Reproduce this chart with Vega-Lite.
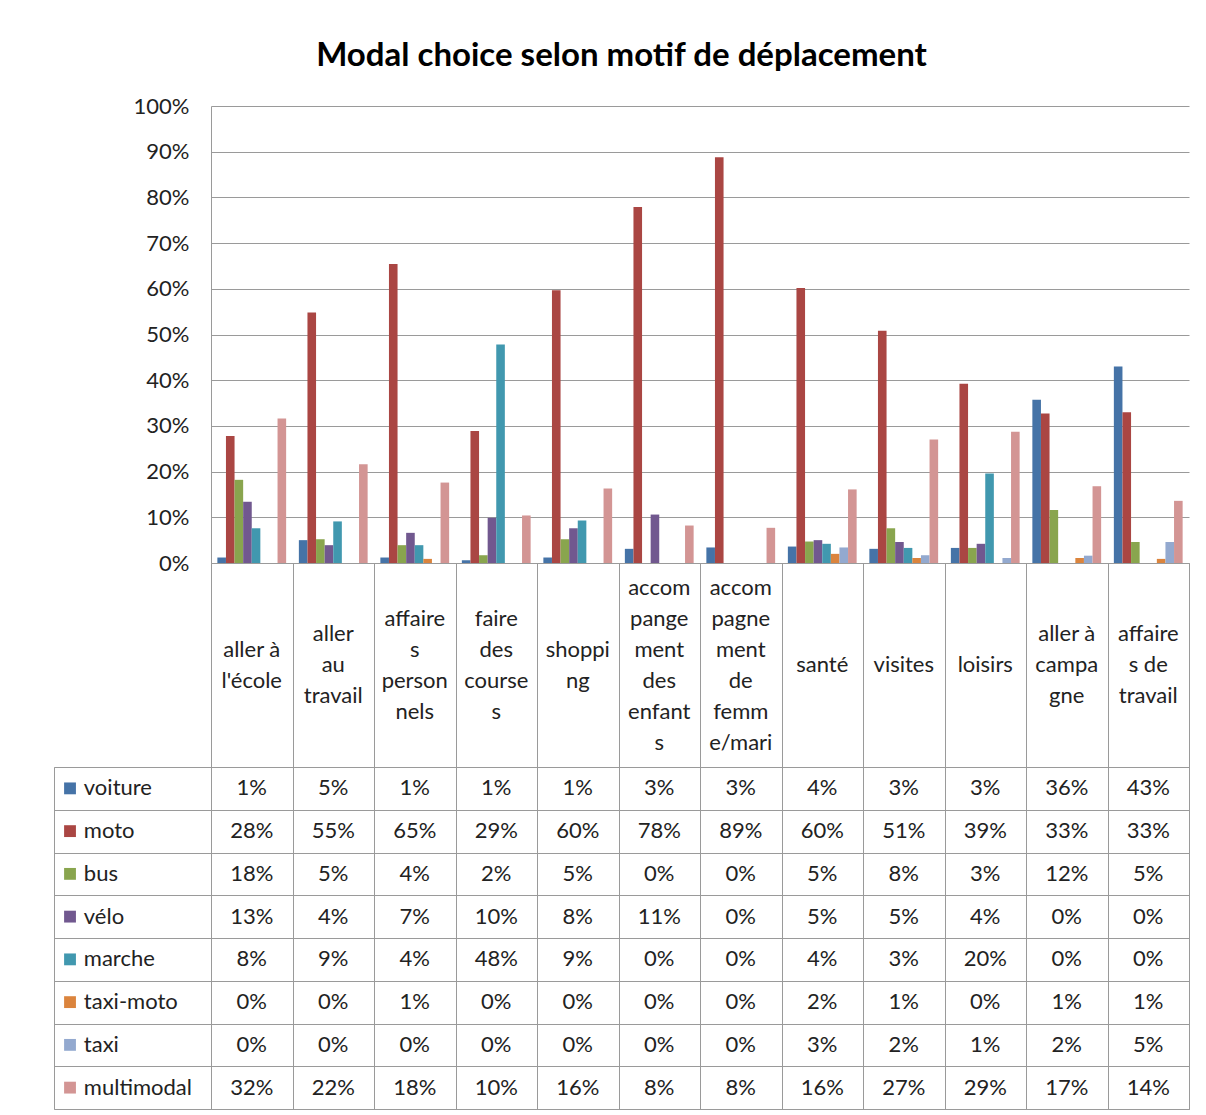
{
  "$schema": "https://vega.github.io/schema/vega-lite/v6.json",
  "padding": {"left": 53, "top": 40, "right": 18, "bottom": 5},
  "background": "white",
  "title": {"text": "Modal choice selon motif de déplacement", "fontSize": 33, "font": "Lato", "fontWeight": "bold", "color": "#000", "anchor": "middle", "offset": 22},
  "config": {"view": {"stroke": null}, "font": "Lato"},
  "columns": 2,
  "spacing": 0,
  "bounds": "flush",
  "datasets": {
    "d": [
      {"cat": "aller à l'école", "series": "voiture", "value": 0.012},
      {"cat": "aller à l'école", "series": "moto", "value": 0.278},
      {"cat": "aller à l'école", "series": "bus", "value": 0.182},
      {"cat": "aller à l'école", "series": "vélo", "value": 0.134},
      {"cat": "aller à l'école", "series": "marche", "value": 0.076},
      {"cat": "aller à l'école", "series": "taxi-moto", "value": 0},
      {"cat": "aller à l'école", "series": "taxi", "value": 0},
      {"cat": "aller à l'école", "series": "multimodal", "value": 0.316},
      {"cat": "aller au travail", "series": "voiture", "value": 0.050},
      {"cat": "aller au travail", "series": "moto", "value": 0.548},
      {"cat": "aller au travail", "series": "bus", "value": 0.052},
      {"cat": "aller au travail", "series": "vélo", "value": 0.039},
      {"cat": "aller au travail", "series": "marche", "value": 0.091},
      {"cat": "aller au travail", "series": "taxi-moto", "value": 0},
      {"cat": "aller au travail", "series": "taxi", "value": 0},
      {"cat": "aller au travail", "series": "multimodal", "value": 0.216},
      {"cat": "affaires personnels", "series": "voiture", "value": 0.012},
      {"cat": "affaires personnels", "series": "moto", "value": 0.654},
      {"cat": "affaires personnels", "series": "bus", "value": 0.039},
      {"cat": "affaires personnels", "series": "vélo", "value": 0.066},
      {"cat": "affaires personnels", "series": "marche", "value": 0.039},
      {"cat": "affaires personnels", "series": "taxi-moto", "value": 0.009},
      {"cat": "affaires personnels", "series": "taxi", "value": 0},
      {"cat": "affaires personnels", "series": "multimodal", "value": 0.176},
      {"cat": "faire des courses", "series": "voiture", "value": 0.006},
      {"cat": "faire des courses", "series": "moto", "value": 0.289},
      {"cat": "faire des courses", "series": "bus", "value": 0.017},
      {"cat": "faire des courses", "series": "vélo", "value": 0.099},
      {"cat": "faire des courses", "series": "marche", "value": 0.478},
      {"cat": "faire des courses", "series": "taxi-moto", "value": 0},
      {"cat": "faire des courses", "series": "taxi", "value": 0},
      {"cat": "faire des courses", "series": "multimodal", "value": 0.104},
      {"cat": "shopping", "series": "voiture", "value": 0.012},
      {"cat": "shopping", "series": "moto", "value": 0.597},
      {"cat": "shopping", "series": "bus", "value": 0.052},
      {"cat": "shopping", "series": "vélo", "value": 0.076},
      {"cat": "shopping", "series": "marche", "value": 0.093},
      {"cat": "shopping", "series": "taxi-moto", "value": 0},
      {"cat": "shopping", "series": "taxi", "value": 0},
      {"cat": "shopping", "series": "multimodal", "value": 0.163},
      {"cat": "accompangement des enfants", "series": "voiture", "value": 0.031},
      {"cat": "accompangement des enfants", "series": "moto", "value": 0.779},
      {"cat": "accompangement des enfants", "series": "bus", "value": 0},
      {"cat": "accompangement des enfants", "series": "vélo", "value": 0.106},
      {"cat": "accompangement des enfants", "series": "marche", "value": 0},
      {"cat": "accompangement des enfants", "series": "taxi-moto", "value": 0},
      {"cat": "accompangement des enfants", "series": "taxi", "value": 0},
      {"cat": "accompangement des enfants", "series": "multimodal", "value": 0.082},
      {"cat": "accompagnement de femme/mari", "series": "voiture", "value": 0.034},
      {"cat": "accompagnement de femme/mari", "series": "moto", "value": 0.888},
      {"cat": "accompagnement de femme/mari", "series": "bus", "value": 0},
      {"cat": "accompagnement de femme/mari", "series": "vélo", "value": 0},
      {"cat": "accompagnement de femme/mari", "series": "marche", "value": 0},
      {"cat": "accompagnement de femme/mari", "series": "taxi-moto", "value": 0},
      {"cat": "accompagnement de femme/mari", "series": "taxi", "value": 0},
      {"cat": "accompagnement de femme/mari", "series": "multimodal", "value": 0.077},
      {"cat": "santé", "series": "voiture", "value": 0.036},
      {"cat": "santé", "series": "moto", "value": 0.602},
      {"cat": "santé", "series": "bus", "value": 0.047},
      {"cat": "santé", "series": "vélo", "value": 0.050},
      {"cat": "santé", "series": "marche", "value": 0.042},
      {"cat": "santé", "series": "taxi-moto", "value": 0.020},
      {"cat": "santé", "series": "taxi", "value": 0.034},
      {"cat": "santé", "series": "multimodal", "value": 0.161},
      {"cat": "visites", "series": "voiture", "value": 0.031},
      {"cat": "visites", "series": "moto", "value": 0.508},
      {"cat": "visites", "series": "bus", "value": 0.076},
      {"cat": "visites", "series": "vélo", "value": 0.046},
      {"cat": "visites", "series": "marche", "value": 0.033},
      {"cat": "visites", "series": "taxi-moto", "value": 0.011},
      {"cat": "visites", "series": "taxi", "value": 0.017},
      {"cat": "visites", "series": "multimodal", "value": 0.270},
      {"cat": "loisirs", "series": "voiture", "value": 0.033},
      {"cat": "loisirs", "series": "moto", "value": 0.392},
      {"cat": "loisirs", "series": "bus", "value": 0.033},
      {"cat": "loisirs", "series": "vélo", "value": 0.042},
      {"cat": "loisirs", "series": "marche", "value": 0.196},
      {"cat": "loisirs", "series": "taxi-moto", "value": 0},
      {"cat": "loisirs", "series": "taxi", "value": 0.011},
      {"cat": "loisirs", "series": "multimodal", "value": 0.287},
      {"cat": "aller à campagne", "series": "voiture", "value": 0.357},
      {"cat": "aller à campagne", "series": "moto", "value": 0.327},
      {"cat": "aller à campagne", "series": "bus", "value": 0.116},
      {"cat": "aller à campagne", "series": "vélo", "value": 0},
      {"cat": "aller à campagne", "series": "marche", "value": 0},
      {"cat": "aller à campagne", "series": "taxi-moto", "value": 0.011},
      {"cat": "aller à campagne", "series": "taxi", "value": 0.016},
      {"cat": "aller à campagne", "series": "multimodal", "value": 0.168},
      {"cat": "affaires de travail", "series": "voiture", "value": 0.430},
      {"cat": "affaires de travail", "series": "moto", "value": 0.330},
      {"cat": "affaires de travail", "series": "bus", "value": 0.046},
      {"cat": "affaires de travail", "series": "vélo", "value": 0},
      {"cat": "affaires de travail", "series": "marche", "value": 0},
      {"cat": "affaires de travail", "series": "taxi-moto", "value": 0.009},
      {"cat": "affaires de travail", "series": "taxi", "value": 0.046},
      {"cat": "affaires de travail", "series": "multimodal", "value": 0.136}
    ],
    "cats": [
      {"cat": "aller à l'école", "label": "aller à\nl'école"},
      {"cat": "aller au travail", "label": "aller\nau\ntravail"},
      {"cat": "affaires personnels", "label": "affaire\ns\nperson\nnels"},
      {"cat": "faire des courses", "label": "faire\ndes\ncourse\ns"},
      {"cat": "shopping", "label": "shoppi\nng"},
      {"cat": "accompangement des enfants", "label": "accom\npange\nment\ndes\nenfant\ns"},
      {"cat": "accompagnement de femme/mari", "label": "accom\npagne\nment\nde\nfemm\ne/mari"},
      {"cat": "santé", "label": "santé"},
      {"cat": "visites", "label": "visites"},
      {"cat": "loisirs", "label": "loisirs"},
      {"cat": "aller à campagne", "label": "aller à\ncampa\ngne"},
      {"cat": "affaires de travail", "label": "affaire\ns de\ntravail"}
    ]
  },
  "concat": [
    {
      "width": 157, "height": 457,
      "data": {"values": []},
      "mark": "point",
      "encoding": {}
    },
    {
      "width": 978, "height": 457,
      "data": {"name": "d"},
      "mark": {"type": "bar"},
      "encoding": {
        "x": {"field": "cat", "type": "nominal", "scale": {"domain": ["aller à l'école", "aller au travail", "affaires personnels", "faire des courses", "shopping", "accompangement des enfants", "accompagnement de femme/mari", "santé", "visites", "loisirs", "aller à campagne", "affaires de travail"], "paddingInner": 0, "paddingOuter": 0}, "axis": null},
        "xOffset": {"field": "series", "type": "nominal", "scale": {"domain": ["voiture", "moto", "bus", "vélo", "marche", "taxi-moto", "taxi", "multimodal"], "paddingInner": 0, "paddingOuter": 0.74}},
        "y": {"field": "value", "type": "quantitative", "scale": {"domain": [0, 1], "nice": false}, "axis": {"title": null, "format": ".0%", "values": [0, 0.1, 0.2, 0.3, 0.4, 0.5, 0.6, 0.7, 0.8, 0.9, 1], "grid": true, "gridColor": "#9a9a9a", "domainColor": "#9a9a9a", "ticks": false, "labelFontSize": 22, "labelColor": "#222", "labelPadding": 22, "labelFont": "Lato"}},
        "color": {"field": "series", "type": "nominal", "scale": {"domain": ["voiture", "moto", "bus", "vélo", "marche", "taxi-moto", "taxi", "multimodal"], "range": ["#4573A7", "#AA4643", "#89A54E", "#71588F", "#4198AF", "#DB843D", "#93A9CF", "#D39594"]}, "legend": null}
      }
    },
    {
      "width": 157, "height": 204,
      "data": {"values": []},
      "mark": "point",
      "encoding": {}
    },
    {
      "width": 978, "height": 204,
      "data": {"name": "cats"},
      "view": {"stroke": "#9a9a9a"},
      "mark": {"type": "text", "fontSize": 22, "lineBreak": "\n", "lineHeight": 31, "color": "#222", "baseline": "middle", "font": "Lato", "dy": {"expr": "-15.5 * (length(split(datum.label, '\\n')) - 1)"}},
      "encoding": {
        "x": {"field": "cat", "type": "nominal", "scale": {"domain": ["aller à l'école", "aller au travail", "affaires personnels", "faire des courses", "shopping", "accompangement des enfants", "accompagnement de femme/mari", "santé", "visites", "loisirs", "aller à campagne", "affaires de travail"], "paddingInner": 0, "paddingOuter": 0}, "axis": {"title": null, "labels": false, "ticks": false, "domain": false, "grid": true, "tickBand": "extent", "gridColor": "#9a9a9a"}},
        "text": {"field": "label"}
      }
    },
    {
      "width": 157, "height": 342,
      "data": {"name": "d"},
      "transform": [{"filter": {"field": "cat", "equal": "aller à l'école"}}],
      "view": {"stroke": "#9a9a9a"},
      "encoding": {
        "y": {"field": "series", "type": "nominal", "scale": {"domain": ["voiture", "moto", "bus", "vélo", "marche", "taxi-moto", "taxi", "multimodal"], "paddingInner": 0, "paddingOuter": 0}, "axis": {"title": null, "labels": false, "ticks": false, "domain": false, "grid": true, "tickBand": "extent", "gridColor": "#9a9a9a"}}
      },
      "layer": [
        {
          "mark": {"type": "square", "size": 140, "opacity": 1, "filled": true},
          "encoding": {
            "x": {"datum": 0.102, "type": "quantitative", "scale": {"domain": [0, 1]}, "axis": null},
            "color": {"field": "series", "type": "nominal", "scale": {"domain": ["voiture", "moto", "bus", "vélo", "marche", "taxi-moto", "taxi", "multimodal"], "range": ["#4573A7", "#AA4643", "#89A54E", "#71588F", "#4198AF", "#DB843D", "#93A9CF", "#D39594"]}, "legend": null}
          }
        },
        {
          "mark": {"type": "text", "align": "left", "fontSize": 22, "color": "#222", "font": "Lato"},
          "encoding": {
            "x": {"datum": 0.19, "type": "quantitative", "scale": {"domain": [0, 1]}, "axis": null},
            "text": {"field": "series"}
          }
        }
      ]
    },
    {
      "width": 978, "height": 342,
      "data": {"name": "d"},
      "view": {"stroke": "#9a9a9a"},
      "mark": {"type": "text", "fontSize": 22, "color": "#222", "font": "Lato"},
      "encoding": {
        "x": {"field": "cat", "type": "nominal", "scale": {"domain": ["aller à l'école", "aller au travail", "affaires personnels", "faire des courses", "shopping", "accompangement des enfants", "accompagnement de femme/mari", "santé", "visites", "loisirs", "aller à campagne", "affaires de travail"], "paddingInner": 0, "paddingOuter": 0}, "axis": {"title": null, "labels": false, "ticks": false, "domain": false, "grid": true, "tickBand": "extent", "gridColor": "#9a9a9a"}},
        "y": {"field": "series", "type": "nominal", "scale": {"domain": ["voiture", "moto", "bus", "vélo", "marche", "taxi-moto", "taxi", "multimodal"], "paddingInner": 0, "paddingOuter": 0}, "axis": {"title": null, "labels": false, "ticks": false, "domain": false, "grid": true, "tickBand": "extent", "gridColor": "#9a9a9a"}},
        "text": {"field": "value", "type": "quantitative", "format": ".0%"}
      }
    }
  ]
}
